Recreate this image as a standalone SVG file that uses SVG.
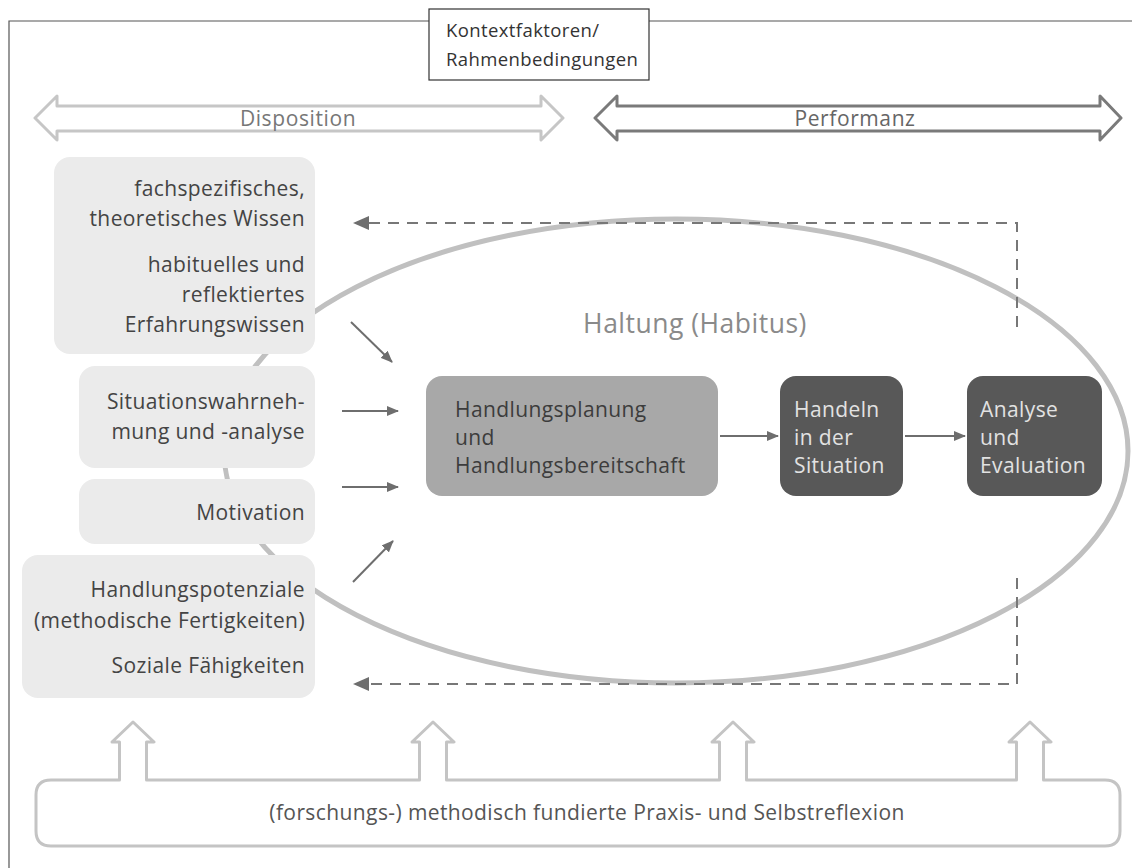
<svg xmlns="http://www.w3.org/2000/svg" width="1132" height="868" viewBox="0 0 1132 868">
<defs>
<marker id="ah" viewBox="0 0 12 10" refX="11" refY="5" markerWidth="12" markerHeight="10" markerUnits="userSpaceOnUse" orient="auto">
<path d="M0,0 L12,5 L0,10 Z" fill="#6e6e6e"/>
</marker>
</defs>
<style>
text{font-family:"Open Sans","Noto Sans","Liberation Sans",sans-serif;letter-spacing:0.4px;}
.lb{fill:#ebebeb;}
.lt{font-size:21px;fill:#444;text-anchor:end;}
.con{stroke:#6e6e6e;stroke-width:2;fill:none;}
.dash{stroke:#777;stroke-width:2;fill:none;stroke-dasharray:11 8;}
.mt{font-size:21px;}
</style>
<rect width="1132" height="868" fill="#fff"/>
<path d="M429,21 H9 V868 M649,21 H1132" stroke="#555" stroke-width="1.2" fill="none"/>
<g id="kontext">
<rect x="429" y="9" width="220" height="71" fill="#fff" stroke="#333" stroke-width="1.2"/>
<text x="446" y="37" font-size="18.5" fill="#333">Kontextfaktoren/</text>
<text x="446" y="66" font-size="18.5" fill="#333">Rahmenbedingungen</text>
</g>
<g id="disposition">
<path d="M35,118 L57,96 V106 H541 V96 L563,118 L541,140 V131 H57 V140 Z" fill="#fff" stroke="#c6c6c6" stroke-width="3" stroke-linejoin="round"/>
<text x="298" y="126" font-size="21" fill="#777" text-anchor="middle" style="letter-spacing:0.6px">Disposition</text>
</g>
<g id="performanz">
<path d="M595,118 L617,96 V106 H1100 V96 L1121,118 L1100,140 V131 H617 V140 Z" fill="#fff" stroke="#7a7a7a" stroke-width="3" stroke-linejoin="round"/>
<text x="855" y="126" font-size="21" fill="#666" text-anchor="middle" style="letter-spacing:0.6px">Performanz</text>
</g>
<g id="haltung">
<ellipse cx="676" cy="451" rx="452" ry="232" fill="none" stroke="#c0c0c0" stroke-width="5"/>
<text x="695" y="333" font-size="26.5" fill="#8a8a8a" text-anchor="middle" style="letter-spacing:0.5px">Haltung (Habitus)</text>
</g>
<g id="wissen">
<rect class="lb" x="54" y="157" width="261" height="197" rx="16"/>
<text class="lt" x="305" y="196">fachspezifisches,</text>
<text class="lt" x="305" y="226">theoretisches Wissen</text>
<text class="lt" x="305" y="272">habituelles und</text>
<text class="lt" x="305" y="302">reflektiertes</text>
<text class="lt" x="305" y="332">Erfahrungswissen</text>
</g>
<g id="situationswahrnehmung">
<rect class="lb" x="79" y="366" width="236" height="102" rx="16"/>
<text class="lt" x="305" y="409">Situationswahrneh-</text>
<text class="lt" x="305" y="439">mung und -analyse</text>
</g>
<g id="motivation">
<rect class="lb" x="79" y="479" width="236" height="65" rx="16"/>
<text class="lt" x="305" y="520">Motivation</text>
</g>
<g id="handlungspotenziale">
<rect class="lb" x="22" y="555" width="293" height="143" rx="16"/>
<text class="lt" x="305" y="597">Handlungspotenziale</text>
<text class="lt" x="305" y="628">(methodische Fertigkeiten)</text>
<text class="lt" x="305" y="673">Soziale Fähigkeiten</text>
</g>
<g id="handlungsplanung">
<rect x="426" y="376" width="292" height="120" rx="16" fill="#a8a8a8"/>
<text class="mt" x="455" y="417" fill="#3c3c3c">Handlungsplanung</text>
<text class="mt" x="455" y="445" fill="#3c3c3c">und</text>
<text class="mt" x="455" y="473" fill="#3c3c3c">Handlungsbereitschaft</text>
</g>
<g id="handeln">
<rect x="780" y="376" width="123" height="120" rx="16" fill="#585858"/>
<text class="mt" x="794" y="417" fill="#e2e2e2">Handeln</text>
<text class="mt" x="794" y="445" fill="#e2e2e2">in der</text>
<text class="mt" x="794" y="473" fill="#e2e2e2">Situation</text>
</g>
<g id="analyse">
<rect x="967" y="376" width="135" height="120" rx="16" fill="#585858"/>
<text class="mt" x="980" y="417" fill="#e2e2e2">Analyse</text>
<text class="mt" x="980" y="445" fill="#e2e2e2">und</text>
<text class="mt" x="980" y="473" fill="#e2e2e2">Evaluation</text>
</g>
<g id="reflexion">
<path d="M51,780 H119.5 V742 H112 L133,722 L154,742 H146.5 V780 H419.5 V742 H412 L433,722 L454,742 H446.5 V780 H719.5 V742 H712 L733,722 L754,742 H746.5 V780 H1016.5 V742 H1009 L1030,722 L1051,742 H1043.5 V780 H1105 Q1120,780 1120,795 V831 Q1120,846 1105,846 H51 Q36,846 36,831 V795 Q36,780 51,780 Z" fill="#fff" stroke="#c4c4c4" stroke-width="3" stroke-linejoin="round"/>
<text x="587" y="820" font-size="21" fill="#555" text-anchor="middle">(forschungs-) methodisch fundierte Praxis- und Selbstreflexion</text>
</g>
<g id="connectors">
<line class="con" x1="351" y1="322" x2="392" y2="362" marker-end="url(#ah)"/>
<line class="con" x1="342" y1="411" x2="398" y2="411" marker-end="url(#ah)"/>
<line class="con" x1="342" y1="487" x2="398" y2="487" marker-end="url(#ah)"/>
<line class="con" x1="353" y1="582" x2="393" y2="541" marker-end="url(#ah)"/>
<line class="con" x1="720" y1="436" x2="778" y2="436" marker-end="url(#ah)"/>
<line class="con" x1="905" y1="436" x2="965" y2="436" marker-end="url(#ah)"/>
<path class="dash" d="M1017,327 V223 H368"/>
<path d="M369,216 L353,223 L369,230 Z" fill="#6e6e6e"/>
<path class="dash" d="M1017,578 V684 H368"/>
<path d="M369,677 L353,684 L369,691 Z" fill="#6e6e6e"/>
</g>
</svg>
